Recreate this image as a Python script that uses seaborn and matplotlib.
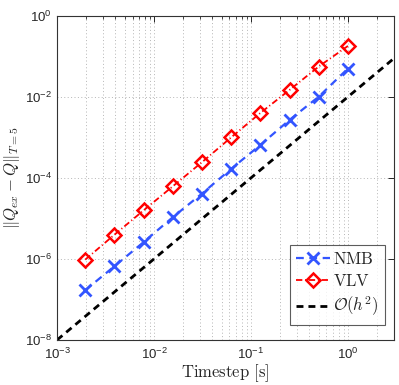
import numpy as np
import pandas as pd
import matplotlib
matplotlib.use("Agg")
import matplotlib.pyplot as plt
import seaborn as sns

# timesteps (s)
timestep = [1.0, 0.5, 0.25, 0.125, 0.0625, 0.03125, 0.015625,
            0.0078125, 0.00390625, 0.001953125]
# errors
nmb_err = [5.0e-2, 1.01e-2, 2.7e-3, 6.5e-4, 1.67e-4, 4.1e-5,
           1.07e-5, 2.6e-6, 6.6e-7, 1.69e-7]
vlv_err = [1.8e-1, 5.6e-2, 1.48e-2, 4.0e-3, 1.0e-3, 2.44e-4,
           6.2e-5, 1.58e-5, 3.96e-6, 9.6e-7]
# reference slope line O(h^2)
ref_h = [1e-3, 3.0]
ref_err = [1e-8, 9e-2]

sns.set_style("white")
plt.rcParams['font.family'] = ['Liberation Sans', 'DejaVu Sans']
plt.rcParams['mathtext.fontset'] = 'custom'
plt.rcParams['mathtext.rm'] = 'Liberation Sans'
plt.rcParams['mathtext.it'] = 'Liberation Sans:italic'

fig = plt.figure(figsize=(3.99, 3.85), dpi=100)
ax = fig.add_axes([0.143, 0.117, 0.845, 0.842])

df = pd.DataFrame({'h': timestep, 'nmb': nmb_err, 'vlv': vlv_err})

blue = '#3355ff'
red = '#ff0000'
sns.lineplot(data=df, x='h', y='nmb', ax=ax, color=blue,
             marker='x', markersize=8, markeredgewidth=2, markeredgecolor=blue,
             linewidth=1.6, label=r'$\mathrm{NMB}$')
ax.lines[-1].set_dashes((3.5, 2.5))
sns.lineplot(data=df, x='h', y='vlv', ax=ax, color=red,
             marker='D', markersize=7, markerfacecolor='none',
             markeredgecolor=red, markeredgewidth=1.8, linewidth=1.3,
             label=r'$\mathrm{VLV}$')
ax.lines[-1].set_dashes((3.5, 1.5, 0.6, 1.5))
sns.lineplot(x=ref_h, y=ref_err, ax=ax, color='black',
             linewidth=2, label=r'$\mathcal{O}(h^2)$')
ax.lines[-1].set_dashes((2.5, 1.8))

ax.set_xscale('log')
ax.set_yscale('log')
ax.set_xlim(1e-3, 3)
ax.set_ylim(1e-8, 1)
ax.set_yticks([1e-8, 1e-6, 1e-4, 1e-2, 1e0])
ax.yaxis.set_minor_locator(matplotlib.ticker.NullLocator())

gkw = dict(color='#b5b5b5', linestyle=(0, (1, 2.5)), linewidth=0.7)
ax.grid(True, which='major', axis='both', **gkw)
ax.grid(True, which='minor', axis='x', **gkw)
ax.tick_params(which='both', direction='in', top=True, right=True, labelsize=9.5)
ax.tick_params(axis='x', which='major', pad=5)
ax.tick_params(which='major', length=4, width=0.7)
ax.tick_params(which='minor', length=2, width=0.6)
for s in ax.spines.values():
    s.set_color('#333333')
    s.set_linewidth(0.8)

ax.set_xlabel(r'$\mathrm{Timestep\ [s]}$', fontsize=12, math_fontfamily='cm', labelpad=0)
ax.set_ylabel(r'$\|Q_{ex} - Q\|_{T=5}$', fontsize=12, math_fontfamily='cm', labelpad=2)

leg = ax.legend(loc='lower right', bbox_to_anchor=(0.973, 0.046), borderaxespad=0,
                fontsize=12, frameon=True, fancybox=False,
                edgecolor='#333333', handlelength=2.0, handletextpad=0.2,
                borderpad=0.4, labelspacing=0.35)
leg.get_frame().set_linewidth(0.8)
for t in leg.get_texts():
    t.set_math_fontfamily('cm')

fig.savefig('out.png', dpi=100)
